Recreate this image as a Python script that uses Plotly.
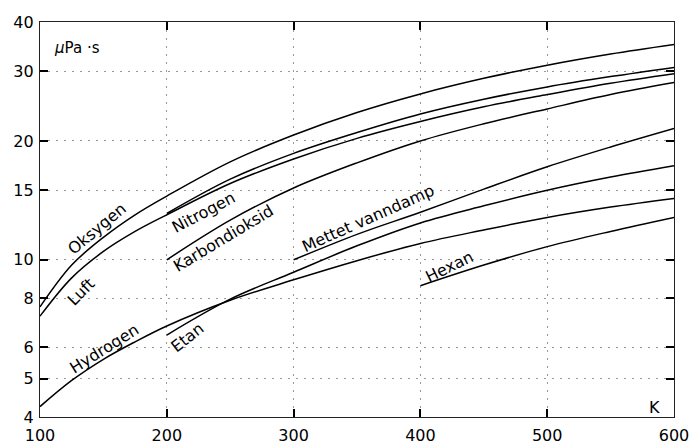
import math
import plotly.graph_objects as go

# Temperatures (K)
T_full = [100, 125, 150, 175, 200, 250, 300, 350, 400, 450, 500, 550, 600]
T_200 = [200, 250, 300, 350, 400, 450, 500, 550, 600]
T_300 = [300, 350, 400, 450, 500, 550, 600]
T_400 = [400, 450, 500, 550, 600]

# Viscosity (µPa·s)
oksygen = [7.6, 9.7, 11.4, 13.0, 14.5, 17.7, 20.7, 23.6, 26.3, 28.8, 31.1, 33.2, 35.1]
luft = [7.2, 9.0, 10.5, 11.8, 13.0, 15.6, 18.0, 20.3, 22.4, 24.4, 26.2, 28.0, 29.6]
hydrogen = [4.25, 4.95, 5.6, 6.2, 6.8, 7.9, 8.9, 9.95, 11.0, 11.9, 12.8, 13.6, 14.3]
nitrogen = [13.1, 16.0, 18.6, 21.0, 23.4, 25.5, 27.4, 29.1, 30.7]
karbondioksid = [10.0, 12.6, 15.2, 17.6, 20.0, 22.1, 24.1, 26.2, 28.1]
etan = [6.45, 7.95, 9.3, 10.85, 12.4, 13.7, 15.0, 16.2, 17.3]
vanndamp = [10.0, 11.6, 13.2, 15.1, 17.2, 19.3, 21.5]
hexan = [8.6, 9.7, 10.8, 11.8, 12.8]

x_ticks = [100, 200, 300, 400, 500, 600]
y_ticks = [4, 5, 6, 8, 10, 15, 20, 30, 40]

series = [
    (T_full, oksygen), (T_full, luft), (T_full, hydrogen),
    (T_200, nitrogen), (T_200, karbondioksid), (T_200, etan),
    (T_300, vanndamp), (T_400, hexan),
]

fig = go.Figure()
for xs, ys in series:
    fig.add_trace(go.Scatter(x=xs, y=ys, mode="lines",
                             line=dict(color="black", width=1.5, shape="spline", smoothing=1.0),
                             showlegend=False, hoverinfo="skip"))

FONT = "DejaVu Sans"
labels = [
    ("Oksygen", 145.0, 12.0, -40),
    ("Luft", 132.7, 8.3, -45),
    ("Nitrogen", 228.7, 13.2, -28),
    ("Karbondioksid", 244.5, 11.3, -31),
    ("Hydrogen", 150.8, 5.98, -32),
    ("Etan", 216.1, 6.37, -38),
    ("Mettet vanndamp", 358.7, 12.7, -24),
    ("Hexan", 423.2, 9.6, -26),
]
for txt, x, y, ang in labels:
    fig.add_annotation(x=x, y=math.log10(y), xref="x", yref="y", text=txt,
                       textangle=ang, showarrow=False,
                       font=dict(family=FONT, size=16, color="black"))

fig.add_annotation(x=109.8, y=math.log10(34.4), xref="x", yref="y",
                   text="<i>μ</i>Pa ·s", showarrow=False, xanchor="left",
                   font=dict(family=FONT, size=15, color="black"))
fig.add_annotation(x=584.6, y=math.log10(4.24), xref="x", yref="y",
                   text="K", showarrow=False,
                   font=dict(family=FONT, size=16, color="black"))

axis_common = dict(showline=True, linecolor="#222", linewidth=1.2, mirror="ticks",
                   ticks="inside", ticklen=8, tickcolor="black", tickwidth=1.5,
                   showgrid=True, gridcolor="#999", griddash="2px,6px", gridwidth=1.2,
                   zeroline=False, automargin=False,
                   tickfont=dict(family=FONT, size=16, color="black"))

fig.update_xaxes(range=[100, 600], tickvals=x_ticks, ticktext=[str(v) for v in x_ticks],
                 ticklabelstandoff=4, **axis_common)
fig.update_yaxes(type="log", range=[math.log10(4), math.log10(40)], tickvals=y_ticks,
                 ticktext=[str(v) for v in y_ticks], ticklabelstandoff=2, **axis_common)

fig.update_layout(width=694, height=444, margin=dict(l=39.5, r=19.5, t=22, b=27),
                  plot_bgcolor="white", paper_bgcolor="white",
                  font=dict(family=FONT, size=16, color="black"))

fig.write_html("out.html")
